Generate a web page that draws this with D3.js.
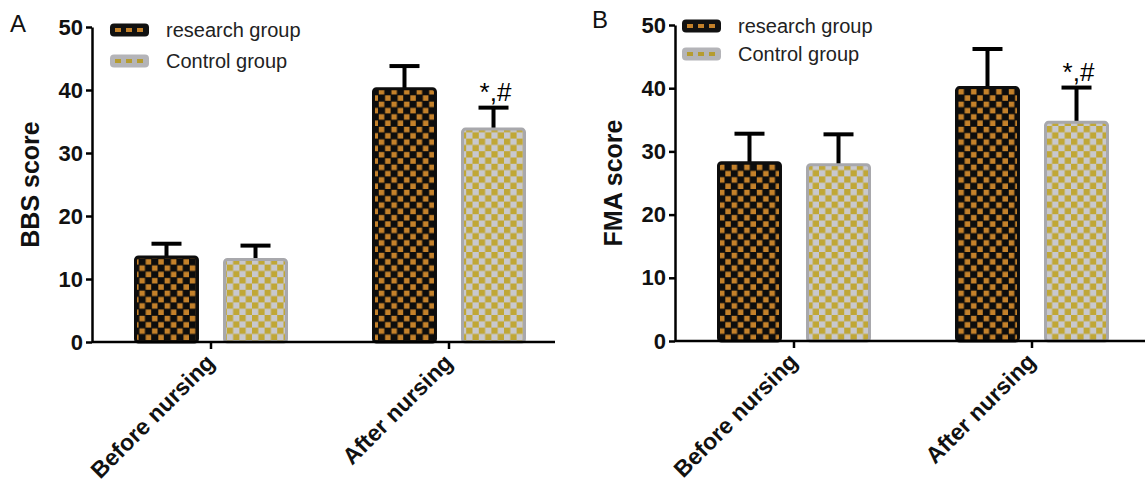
<!DOCTYPE html>
<html>
<head>
<meta charset="utf-8">
<script src="https://cdn.jsdelivr.net/npm/d3@7"></script>
<style>
  body { margin: 0; background: #fff; }
  svg { display: block; font-family: "Liberation Sans", Arial, sans-serif; }
</style>
</head>
<body>
<div id="chart"></div>
<script>
// data
const categories = ["Before nursing", "After nursing"];
const groups = ["research group", "Control group"];
const yTicks = [0, 10, 20, 30, 40, 50];

const bbsResearch = [13.5, 40.2];
const bbsResearchErr = [2.1, 3.6];
const bbsControl = [13.1, 33.8];
const bbsControlErr = [2.2, 3.4];

const fmaResearch = [28.2, 40.1];
const fmaResearchErr = [4.6, 6.1];
const fmaControl = [27.9, 34.6];
const fmaControlErr = [4.8, 5.5];

const marks = ["", "*,#"];   // over control group bars

const svg = d3.select('#chart').append('svg').attr('width', 1145).attr('height', 488);

// checker patterns
const defs = svg.append('defs');
function checker(id, bg, fg, gap) {
    const s = 6.3;
    const p = defs.append('pattern').attr('id', id).attr('patternUnits', 'userSpaceOnUse')
        .attr('width', s * 2).attr('height', s * 2);
    p.append('rect').attr('width', s * 2).attr('height', s * 2).attr('fill', bg);
    p.append('rect').attr('x', gap).attr('y', gap).attr('width', s - gap).attr('height', s - gap).attr('fill', fg);
    p.append('rect').attr('x', s + gap).attr('y', s + gap).attr('width', s - gap).attr('height', s - gap).attr('fill', fg);
}
checker('patR', '#0d0d0d', '#c4812a', 0.8);
checker('patC', '#c8c8ce', '#c0a736', 0);

const fills = ['url(#patR)', 'url(#patC)'];
const strokes = ['#0d0d0d', '#a8a8ac'];
const swatchFill = ['#111', '#b4b4b8'];
const dashColor = ['#c4812a', '#b59c30'];

function drawPanel(o) {
    const g = svg.append('g');
    const y = d3.scaleLinear().domain([0, 50]).range([o.y0, o.y50]);
    const x = d3.scaleBand().domain(categories).range([o.x0, o.x0 + 476]);
    const x1 = d3.scaleBand().domain(groups).range([-77, 77]).paddingInner(0.27);

    const rows = [];
    categories.forEach((c, i) => {
        rows.push({ c: c, g: groups[0], k: 0, v: o.research[i], e: o.researchErr[i], m: "" });
        rows.push({ c: c, g: groups[1], k: 1, v: o.control[i], e: o.controlErr[i], m: marks[i] });
    });
    const cx = d => x(d.c) + x.bandwidth() / 2 + x1(d.g) + x1.bandwidth() / 2;

    // error bars
    const eb = g.selectAll('.err').data(rows).enter().append('g');
    eb.append('line')
        .attr('x1', cx).attr('x2', cx)
        .attr('y1', d => y(d.v))
        .attr('y2', d => y(d.v + d.e))
        .attr('stroke', '#000').attr('stroke-width', 4);
    eb.append('line')
        .attr('x1', d => cx(d) - 15)
        .attr('x2', d => cx(d) + 15)
        .attr('y1', d => y(d.v + d.e))
        .attr('y2', d => y(d.v + d.e))
        .attr('stroke', '#000').attr('stroke-width', 4);

    // bars
    g.selectAll('.bar').data(rows).enter().append('rect')
        .attr('x', d => x(d.c) + x.bandwidth() / 2 + x1(d.g) + 1.5)
        .attr('y', d => y(d.v))
        .attr('width', x1.bandwidth() - 3)
        .attr('height', d => y(0) - y(d.v))
        .attr('rx', 3)
        .attr('fill', d => fills[d.k])
        .attr('stroke', d => strokes[d.k])
        .attr('stroke-width', 3);

    // significance marks
    g.selectAll('.mark').data(rows.filter(d => d.m)).enter().append('text')
        .attr('x', d => cx(d) + 2)
        .attr('y', d => y(d.v + d.e) - 7)
        .attr('text-anchor', 'middle')
        .attr('font-size', 26)
        .text(d => d.m);

    // y axis
    const ya = g.append('g').attr('transform', `translate(${o.x0},0)`)
        .call(d3.axisLeft(y).tickValues(yTicks).tickSize(6).tickSizeOuter(0).tickPadding(3));
    ya.select('.domain').attr('stroke-width', 2.5);
    ya.selectAll('.tick line').attr('stroke-width', 2.5);
    ya.selectAll('.tick text').attr('font-size', 22).attr('font-weight', 'bold')
        .attr('font-family', '"Liberation Sans", Arial, sans-serif').attr('fill', '#111');

    // x axis
    const xa = g.append('g').attr('transform', `translate(0,${o.y0})`)
        .call(d3.axisBottom(x).tickSize(7).tickSizeOuter(0).tickFormat(''));
    xa.select('.domain').attr('d', `M${o.x0},0H${o.xEnd}`).attr('stroke-width', 2.5);
    xa.selectAll('.tick line').attr('stroke-width', 2.5);

    g.selectAll('.cat').data(categories).enter().append('text')
        .attr('transform', d => `translate(${x(d) + x.bandwidth() / 2 + 5},${o.y0 + 22}) rotate(-45)`)
        .attr('text-anchor', 'end')
        .attr('font-size', 23).attr('font-weight', 'bold').attr('fill', '#111')
        .text(d => d);

    // y title
    g.append('text')
        .attr('transform', `translate(${o.x0 - 53},${(o.y0 + o.y50) / 2}) rotate(-90)`)
        .attr('text-anchor', 'middle')
        .attr('font-size', 25).attr('font-weight', 'bold').attr('fill', '#111')
        .text(o.title);

    // panel letter
    g.append('text').attr('x', o.letterX).attr('y', o.letterY)
        .attr('font-size', 24).attr('fill', '#111').text(o.letter);

    // legend
    const lg = g.selectAll('.leg').data(groups).enter().append('g')
        .attr('transform', (d, i) => `translate(${o.legX},${o.legY + i * o.legStep})`);
    lg.append('rect').attr('x', 0).attr('y', -6.5).attr('width', 39).attr('height', 13).attr('rx', 4)
        .attr('fill', (d, i) => swatchFill[i]);
    lg.append('line').attr('x1', 5).attr('x2', 36).attr('y1', 0).attr('y2', 0)
        .attr('stroke', (d, i) => dashColor[i]).attr('stroke-width', 4)
        .attr('stroke-dasharray', '6,5');
    lg.append('text').attr('x', 56).attr('y', 0).attr('dy', '0.35em')
        .attr('font-size', 20).attr('fill', '#222').text(d => d);
}

drawPanel({
    x0: 92, xEnd: 555, y0: 342, y50: 27, title: 'BBS score', letter: 'A',
    letterX: 10, letterY: 32, legX: 110, legY: 30, legStep: 31,
    research: bbsResearch, researchErr: bbsResearchErr,
    control: bbsControl, controlErr: bbsControlErr
});
drawPanel({
    x0: 675, xEnd: 1145, y0: 341, y50: 25, title: 'FMA score', letter: 'B',
    letterX: 592, letterY: 28, legX: 682, legY: 26, legStep: 28,
    research: fmaResearch, researchErr: fmaResearchErr,
    control: fmaControl, controlErr: fmaControlErr
});
</script>
</body>
</html>
